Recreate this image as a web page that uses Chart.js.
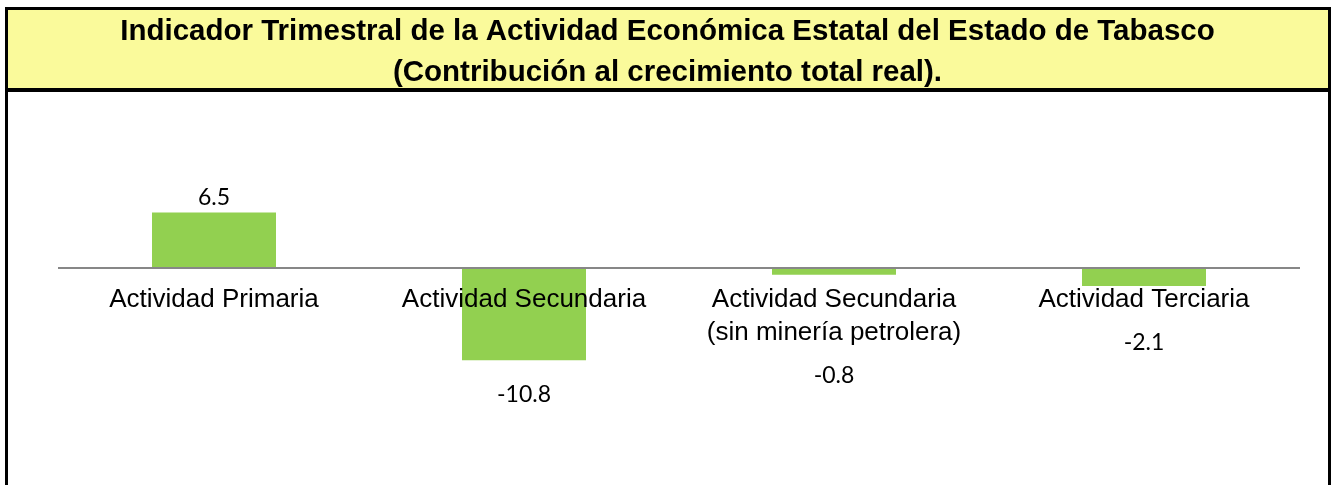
<!DOCTYPE html>
<html>
<head>
<meta charset="utf-8">
<script src="https://cdn.jsdelivr.net/npm/chart.js@4"></script>
<style>
  html, body { margin: 0; padding: 0; background: #fff; }
  #wrap { width: 1332px; height: 485px; position: relative; }
</style>
</head>
<body>
<div id="wrap"><canvas id="c"></canvas></div>
<script>
const titleLines = [
  "Indicador Trimestral de la Actividad Económica Estatal del Estado de Tabasco",
  "(Contribución al crecimiento total real)."
];
const categories = [
  "Actividad Primaria",
  "Actividad Secundaria",
  ["Actividad Secundaria", "(sin minería petrolera)"],
  "Actividad Terciaria"
];
const contributionValues = [6.5, -10.8, -0.8, -2.1];
const yMin = -20;
const yMax = 10;

const TICK_PAD = 15.5;
const TICK_LH = 33;

const framePlugin = {
  id: 'frame',
  beforeDraw(chart) {
    const ctx = chart.ctx;
    const W = chart.width, H = chart.height;
    ctx.save();
    ctx.fillStyle = '#ffffff';
    ctx.fillRect(0, 0, W, H);
    // title box
    ctx.fillStyle = 'rgb(250,250,155)';
    ctx.fillRect(6, 8, 1323, 82);
    ctx.strokeStyle = '#000';
    ctx.lineWidth = 3;
    ctx.beginPath();
    ctx.moveTo(6.5, 8.5); ctx.lineTo(1329.5, 8.5);
    ctx.stroke();
    ctx.lineWidth = 4;
    ctx.beginPath();
    ctx.moveTo(5, 90); ctx.lineTo(1331, 90);
    ctx.stroke();
    ctx.lineWidth = 3;
    ctx.beginPath();
    ctx.moveTo(6.5, 7); ctx.lineTo(6.5, H);
    ctx.moveTo(1329.5, 7); ctx.lineTo(1329.5, H);
    ctx.stroke();
    // title text
    ctx.fillStyle = '#000';
    ctx.font = 'bold 29.5px "Liberation Sans", Arial, sans-serif';
    ctx.textAlign = 'center';
    ctx.textBaseline = 'alphabetic';
    ctx.fillText(titleLines[0], 667.5, 40);
    ctx.fillText(titleLines[1], 667.5, 81);
    ctx.restore();
  }
};

const valueLabelPlugin = {
  id: 'valueLabels',
  afterDatasetsDraw(chart) {
    const ctx = chart.ctx;
    const meta = chart.getDatasetMeta(0);
    const yScale = chart.scales.y;
    const zero = yScale.getPixelForValue(0);
    ctx.save();
    ctx.fillStyle = '#000';
    ctx.font = '23px Lato, "Open Sans", sans-serif';
    ctx.textAlign = 'center';
    ctx.textBaseline = 'middle';
    meta.data.forEach((bar, i) => {
      const v = chart.data.datasets[0].data[i];
      const txt = v.toFixed(1);
      let y;
      if (v >= 0) {
        y = bar.y - 14.5;
      } else {
        const lbl = chart.data.labels[i];
        const lines = Array.isArray(lbl) ? lbl.length : 1;
        const labelBottom = zero + TICK_PAD + lines * TICK_LH;
        y = Math.max(bar.y + 34, labelBottom + 26);
      }
      ctx.fillText(txt, bar.x, y);
    });
    ctx.restore();
  }
};

new Chart(document.getElementById('c'), {
  type: 'bar',
  data: {
    labels: categories,
    datasets: [{
      data: contributionValues,
      backgroundColor: '#92D050',
      borderWidth: 0,
      categoryPercentage: 0.8,
      barPercentage: 0.5
    }]
  },
  options: {
    responsive: true,
    maintainAspectRatio: false,
    animation: false,
    layout: { padding: { left: 59, right: 33, top: 182.5, bottom: 46 } },
    plugins: {
      legend: { display: false },
      title: { display: false },
      tooltip: { enabled: false }
    },
    scales: {
      x: {
        position: { y: 0 },
        grid: { display: false, drawTicks: false },
        border: { display: true, color: '#878787', width: 2, z: 1 },
        ticks: {
          z: 1,
          color: '#000',
          padding: TICK_PAD,
          autoSkip: false,
          maxRotation: 0,
          font: { family: '"Liberation Sans", Arial, sans-serif', size: 26, lineHeight: TICK_LH / 26 }
        },
        afterFit(scale) { scale.height = 0; }
      },
      y: {
        display: false,
        min: yMin,
        max: yMax
      }
    }
  },
  plugins: [framePlugin, valueLabelPlugin]
});
</script>
</body>
</html>
